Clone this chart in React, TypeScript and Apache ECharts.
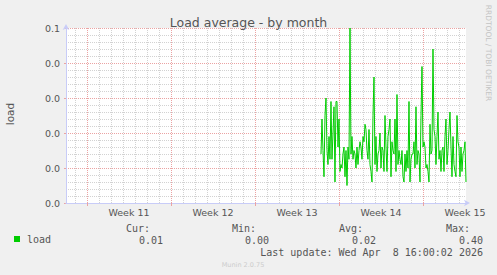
import React, { useEffect, useRef } from "react";
import * as echarts from "echarts";

const chartTitle = "Load average - by month";
const yAxisTitle = "load";
const seriesName = "load";
const weekLabels = ["Week 11", "Week 12", "Week 13", "Week 14", "Week 15"];
const weekStartDays = [0, 7, 14, 21, 28];
const yTickLabels = ["0.0", "0.0", "0.0", "0.0", "0.0", "0.1"];
const statLabels = ["Cur:", "Min:", "Avg:", "Max:"];
const statValues = ["0.01", "0.00", "0.02", "0.40"];
const lastUpdate = "Last update: Wed Apr\u00a0 8 16:00:02 2026";
const footerText = "Munin 2.0.75";
const sideText = "RRDTOOL / TOBI OETIKER";

// days counted from the start of Week 11; one sample every 2 hours
const dataStartDay = 19.5;
const samplesPerDay = 12;
const loadValues = [
  0.014, 0.024, 0.015, 0.0075, 0.025, 0.03, 0.015, 0.011, 0.019, 0.0125,
  0.029, 0.0125, 0.02, 0.0275, 0.006, 0.029, 0.029, 0.016, 0.024, 0.009,
  0.011, 0.01, 0.014, 0.016, 0.0075, 0.015, 0.005, 0.016, 0.0125, 0.05,
  0.014, 0.019, 0.0125, 0.015,
  0.014, 0.01, 0.016, 0.011, 0.015, 0.0175, 0.016, 0.0125, 0.019, 0.0175,
  0.0225, 0.021, 0.015, 0.0125, 0.021, 0.011, 0.009, 0.006, 0.025, 0.036,
  0.011, 0.019, 0.009, 0.014, 0.015, 0.02, 0.01, 0.016, 0.015, 0.009,
  0.025, 0.016, 0.009, 0.019, 0.021, 0.024, 0.0075, 0.0175, 0.015,
  0.014, 0.024, 0.009, 0.031, 0.011, 0.015, 0.0125, 0.011, 0.015, 0.0075,
  0.006, 0.014, 0.009, 0.015, 0.01, 0.029, 0.006, 0.0125, 0.014, 0.014,
  0.0175, 0.01, 0.0275, 0.011, 0.015, 0.014, 0.006, 0.025, 0.039, 0.016,
  0.0175, 0.016, 0.01, 0.011, 0.009, 0.006, 0.0225, 0.014,
  0.015, 0.044, 0.021, 0.019, 0.011, 0.019, 0.026, 0.0125, 0.015, 0.009,
  0.015, 0.016, 0.009, 0.019, 0.024, 0.011, 0.015, 0.021, 0.026, 0.016,
  0.0075, 0.019, 0.011, 0.009, 0.0075, 0.025, 0.0175, 0.016, 0.0075, 0.016,
  0.009, 0.014, 0.015, 0.0175, 0.006,
];

const X_MIN = -1.75;
const X_MAX = 31.5834;
const Y_MAX = 0.05;
const Y_STEP = 0.01;

const GREEN = "#00cc00";
const TEXT = "#555555";
const AXIS = "#c8ccf8";
const MAJOR = "#eba3a3";
const MINOR = "#d2d2d2";
const SANS = "DejaVu Sans";
const MONO = "DejaVu Sans Mono";

export default function App() {
  const ref = useRef<HTMLDivElement>(null);

  useEffect(() => {
    if (!ref.current) return;
    const chart = echarts.init(ref.current, undefined, { renderer: "svg" });

    const seriesData = loadValues.map((v, i) => [dataStartDay + i / samplesPerDay, v]);
    const dayLines: number[] = [];
    for (let d = -1; d <= 31; d++) if (d % 7 !== 0) dayLines.push(d);
    const labelCenters = weekStartDays.map((d) => d + 3.5);

    const labelRight = [150, 256, 363, 470];
    const graphics: any[] = [];
    statLabels.forEach((t, i) => {
      graphics.push({
        type: "text",
        x: labelRight[i],
        y: 228,
        style: { text: t, fill: TEXT, font: `10px '${MONO}'`, align: "right", verticalAlign: "middle" },
      });
      graphics.push({
        type: "text",
        x: labelRight[i] + 13,
        y: 240,
        style: { text: statValues[i], fill: TEXT, font: `10px '${MONO}'`, align: "right", verticalAlign: "middle" },
      });
    });
    graphics.push({
      type: "text",
      x: 483,
      y: 252,
      style: { text: lastUpdate, fill: TEXT, font: `10px '${MONO}'`, align: "right", verticalAlign: "middle" },
    });
    graphics.push({
      type: "text",
      x: 243,
      y: 265,
      style: { text: footerText, fill: "#cccccc", font: `6.5px '${SANS}'`, align: "center", verticalAlign: "middle" },
    });
    graphics.push({
      type: "text",
      x: 488,
      y: 53,
      rotation: -Math.PI / 2,
      style: { text: sideText, fill: "#c4c4c4", font: `7.5px '${SANS}'`, align: "center", verticalAlign: "middle" },
    });
    graphics.push({
      type: "text",
      x: 10,
      y: 114,
      rotation: Math.PI / 2,
      style: { text: yAxisTitle, fill: TEXT, font: `10.5px '${SANS}'`, align: "center", verticalAlign: "middle" },
    });

    chart.setOption({
      animation: false,
      backgroundColor: "#f0f0f0",
      title: {
        text: chartTitle,
        left: "center",
        top: 11,
        textStyle: { fontFamily: SANS, fontSize: 12.5, fontWeight: "normal", color: TEXT },
      },
      legend: {
        left: 14,
        top: 234,
        padding: 0,
        icon: "rect",
        itemWidth: 6,
        itemHeight: 6,
        itemGap: 4,
        textStyle: { fontFamily: MONO, fontSize: 10, color: TEXT, padding: [0, 0, 0, 2] },
        data: [seriesName],
      },
      grid: {
        left: 66,
        top: 28,
        width: 400,
        height: 175,
        show: true,
        backgroundColor: "#ffffff",
        borderWidth: 0,
        containLabel: false,
      },
      xAxis: [
        {
          type: "value",
          min: X_MIN,
          max: X_MAX,
          axisLine: {
            show: true,
            onZero: false,
            lineStyle: { color: AXIS, width: 1 },
            symbol: ["none", "arrow"],
            symbolSize: [5, 6],
            symbolOffset: [0, 4],
          },
          axisTick: { show: true, length: 3, lineStyle: { color: MAJOR }, customValues: weekStartDays },
          axisLabel: {
            show: true,
            customValues: labelCenters,
            margin: 4,
            fontFamily: SANS,
            fontSize: 9.5,
            color: TEXT,
            formatter: (v: number) => weekLabels[Math.round((v - 3.5) / 7)] ?? "",
          },
          splitLine: { show: true, lineStyle: { color: MAJOR, type: [1, 1], width: 1 } },
          z: 3,
        },
        {
          type: "value",
          min: X_MIN,
          max: X_MAX,
          position: "bottom",
          axisLine: { show: false, onZero: false },
          axisTick: { show: false, customValues: dayLines },
          axisLabel: { show: false },
          splitLine: { show: true, lineStyle: { color: MINOR, type: [1, 1], width: 1 } },
          z: 1,
        },
      ],
      yAxis: {
        type: "value",
        min: 0,
        max: Y_MAX,
        interval: Y_STEP,
        axisLine: {
          show: true,
          onZero: false,
          lineStyle: { color: AXIS, width: 1 },
          symbol: ["none", "arrow"],
          symbolSize: [5, 6],
          symbolOffset: [0, 4],
        },
        axisTick: { show: true, length: 2, lineStyle: { color: MAJOR } },
        minorTick: { show: false, splitNumber: 5 },
        minorSplitLine: { show: true, lineStyle: { color: MINOR, type: [1, 1], width: 1 } },
        splitLine: { show: true, lineStyle: { color: MAJOR, type: [1, 1], width: 1 } },
        axisLabel: {
          margin: 6,
          fontFamily: SANS,
          fontSize: 9.5,
          color: TEXT,
          formatter: (v: number) => yTickLabels[Math.round(v / Y_STEP)] ?? "",
        },
      },
      graphic: graphics,
      series: [
        {
          name: seriesName,
          type: "line",
          xAxisIndex: 0,
          data: seriesData,
          showSymbol: false,
          symbol: "none",
          color: GREEN,
          lineStyle: { color: GREEN, width: 1 },
          itemStyle: { color: GREEN },
          z: 5,
        },
      ],
    });

    return () => chart.dispose();
  }, []);

  return (
    <div
      ref={ref}
      style={{ position: "absolute", left: 0, top: 0, width: 497, height: 275 }}
    />
  );
}
